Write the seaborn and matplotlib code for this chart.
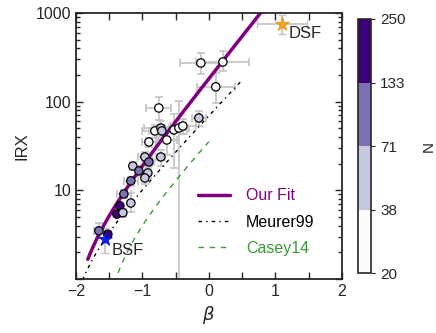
import numpy as np
import pandas as pd
import matplotlib
matplotlib.use("Agg")
import matplotlib.pyplot as plt
import seaborn as sns
from matplotlib.colors import ListedColormap, BoundaryNorm
from matplotlib.ticker import MultipleLocator, LogLocator, NullFormatter, FixedLocator

# data
beta = [-1.654, -1.519, -1.383, -1.338, -1.293, -1.278, -1.173, -1.173, -1.143, -1.053,
        -0.962, -0.917, -0.962, -0.902, -0.722, -0.902, -0.812, -0.722, -0.707, -0.632,
        -0.526, -0.451, -0.391, -0.752, -0.150, -0.120, 0.211, 0.105]
irx = [3.5, 3.2, 5.4, 6.7, 5.6, 9.1, 7.2, 12.8, 18.8, 16.6,
       23.8, 15.7, 13.8, 20.9, 23.8, 35.1, 46.8, 50.5, 46.8, 37.0,
       48.0, 50.5, 53.2, 84.9, 65.5, 273, 280, 147]
n_obj = [100, 180, 180, 180, 50, 100, 50, 100, 50, 100,
         50, 50, 50, 100, 50, 25, 25, 50, 50, 25,
         25, 25, 25, 25, 50, 25, 25, 25]
beta_err = [0.08, 0, 0, 0, 0.05, 0.1, 0, 0.1, 0, 0,
            0.1, 0, 0, 0.08, 0.07, 0.11, 0.2, 0.25, 0.2, 0.15,
            0.2, 0.15, 0.2, 0.19, 0.1, 0.32, 0.4, 0.29]
irx_lo = [0.6, 0.3, 0, 0, 0.6, 1.0, 1.5, 1.5, 2, 2,
          3, 2, 2, 2, 5, 4, 8, 10, 8, 12,
          30, 49.6, 10, 22, 12, 70, 60, 50]
irx_hi = [0.8, 0.3, 0, 0, 0.6, 1.0, 2.2, 1.5, 2, 2,
          3, 2, 2, 2, 4.5, 4, 8, 10, 8, 15,
          25, 50, 10, 28, 12, 80, 90, 65]

dsf = dict(beta=1.098, irx=752, xerr=0.38, lo=172, hi=197)
bsf = dict(beta=-1.564, irx=2.83, lo=0.86, hi=0.94)

n_bounds = [20, 38, 71, 133, 250]
n_colors = ["#fcfbfd", "#c6c7e1", "#7d70b3", "#3f007d"]

# relations: IRX = k * (10**(0.4*(a + b*beta)) - 1)
fit_par = (1.75, 5.05, 2.375)
meurer_par = (1.19, 4.43, 1.99)
casey_par = (1.68, 3.36, 2.04)
fit_beta = np.linspace(-1.82, 0.85, 200)
meurer_beta = np.linspace(-1.9, 0.5, 200)
casey_beta = np.linspace(-1.42, 0.0, 200)


def irx_curve(b, par):
    k, a, s = par
    return k * (10 ** (0.4 * (a + s * b)) - 1)


sns.set_style("ticks")
plt.rcParams["font.family"] = ["Liberation Sans", "DejaVu Sans"]
plt.rcParams["font.size"] = 11
plt.rcParams["mathtext.fontset"] = "dejavusans"

fig = plt.figure(figsize=(4.36, 3.33), dpi=100)
ax = fig.add_axes([0.174, 0.162, 0.610, 0.799])
cax = fig.add_axes([0.821, 0.180, 0.030, 0.763])

cmap = ListedColormap(n_colors)
norm = BoundaryNorm(n_bounds, cmap.N)

df = pd.DataFrame({"beta": beta, "irx": irx, "N": n_obj})
df["bin"] = [str(int(np.digitize(v, n_bounds[1:-1]))) for v in n_obj]
pal = {str(i): c for i, c in enumerate(n_colors)}

ax.errorbar(beta, irx, xerr=beta_err, yerr=[irx_lo, irx_hi], fmt="none",
            ecolor="#c4c4c4", elinewidth=1.2, capsize=3, capthick=1.2, zorder=1)
ax.errorbar([dsf["beta"]], [dsf["irx"]], xerr=dsf["xerr"], yerr=[[dsf["lo"]], [dsf["hi"]]],
            fmt="none", ecolor="#c4c4c4", elinewidth=1.2, capsize=3, zorder=1)
ax.errorbar([bsf["beta"]], [bsf["irx"]], yerr=[[bsf["lo"]], [bsf["hi"]]],
            fmt="none", ecolor="#c4c4c4", elinewidth=1.2, capsize=3, zorder=1)

sns.lineplot(x=fit_beta, y=irx_curve(fit_beta, fit_par), color="#800080", lw=2.5,
             label="Our Fit", ax=ax, zorder=2)
sns.lineplot(x=meurer_beta, y=irx_curve(meurer_beta, meurer_par), color="black", lw=1,
             linestyle=(0, (2.5, 3, 1, 3)), label="Meurer99", ax=ax, zorder=2)
sns.lineplot(x=casey_beta, y=irx_curve(casey_beta, casey_par), color="#3a9a3a", lw=1,
             linestyle=(0, (4, 4)), label="Casey14", ax=ax, zorder=2)

sns.scatterplot(data=df, x="beta", y="irx", hue="bin", palette=pal, s=36,
                edgecolor="black", linewidth=0.9, legend=False, ax=ax, zorder=3)
ax.scatter([dsf["beta"]], [dsf["irx"]], marker="*", s=110, color="#f5a623",
           edgecolor="#e08a00", linewidth=0.5, zorder=4)
ax.scatter([bsf["beta"]], [bsf["irx"]], marker="*", s=110, color="#1020e0",
           edgecolor="#0010c0", linewidth=0.5, zorder=4)

ax.text(1.2, 590, "DSF", fontsize=12, va="center", ha="left")
ax.text(-1.46, 2.08, "BSF", fontsize=12, va="center", ha="left")

ax.set_yscale("log")
ax.set_xlim(-2, 2)
ax.set_ylim(1, 1000)
ax.xaxis.set_major_locator(MultipleLocator(1))
ax.xaxis.set_minor_locator(MultipleLocator(0.5))
ax.yaxis.set_major_locator(FixedLocator([1, 10, 100, 1000]))
ax.yaxis.set_minor_locator(LogLocator(base=10, subs=np.arange(2, 10)))
ax.yaxis.set_minor_formatter(NullFormatter())
ax.set_yticklabels(["", "10", "100", "1000"])
ax.tick_params(which="both", direction="in", top=True, right=True, width=1, labelsize=11.5)
ax.tick_params(which="major", length=5)
ax.tick_params(which="minor", length=3)
ax.tick_params(axis="x", which="minor", length=5)
for sp in ax.spines.values():
    sp.set_linewidth(1.3)
ax.set_xlabel(r"$\beta$", fontsize=13)
ax.set_ylabel("IRX", fontsize=12)

leg = ax.legend(loc="upper left", bbox_to_anchor=(0.405, 0.395), frameon=False,
                handlelength=2.0, handletextpad=1.0, fontsize=11.5, labelspacing=0.7)
for txt, c in zip(leg.get_texts(), ["#800080", "black", "#3a9a3a"]):
    txt.set_color(c)

sm = matplotlib.cm.ScalarMappable(norm=norm, cmap=cmap)
cb = fig.colorbar(sm, cax=cax, ticks=n_bounds, spacing="uniform")
cb.outline.set_linewidth(1.2)
cb.ax.tick_params(labelsize=11, length=3)
cb.set_label("N", fontsize=11, labelpad=12)

fig.savefig("out.png", dpi=100)
